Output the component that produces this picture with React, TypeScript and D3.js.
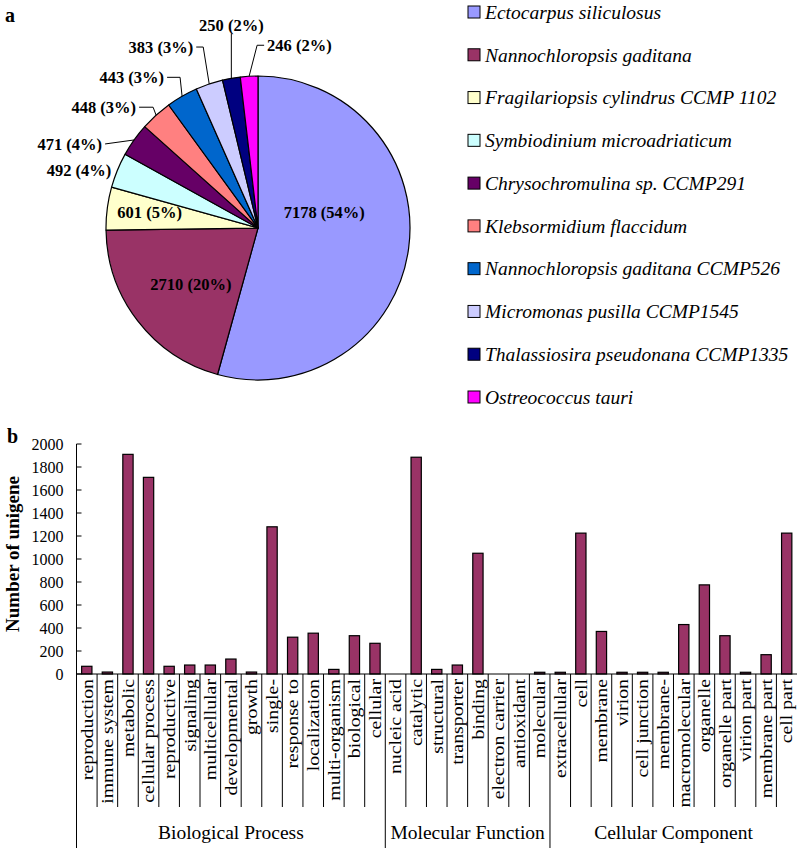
import React from 'react';
import * as d3 from 'd3';

// ---- panel a: species distribution ----
const species = [
  'Ectocarpus siliculosus',
  'Nannochloropsis gaditana',
  'Fragilariopsis cylindrus CCMP 1102',
  'Symbiodinium microadriaticum',
  'Chrysochromulina sp. CCMP291',
  'Klebsormidium flaccidum',
  'Nannochloropsis gaditana CCMP526',
  'Micromonas pusilla CCMP1545',
  'Thalassiosira pseudonana CCMP1335',
  'Ostreococcus tauri'
];
const speciesCounts = [7178, 2710, 601, 492, 471, 448, 443, 383, 250, 246];
const speciesColors = ['#9999ff', '#993366', '#ffffcc', '#ccffff', '#660066', '#ff8080', '#0066cc', '#ccccff', '#000080', '#ff00ff'];

// ---- panel b: GO classification ----
const bioProcess = ['reproduction', 'immune system', 'metabolic', 'cellular process', 'reproductive', 'signaling', 'multicellular', 'developmental', 'growth', 'single-', 'response to', 'localization', 'multi-organism', 'biological', 'cellular'];
const bioValues = [67, 17, 1910, 1710, 67, 78, 78, 130, 17, 1280, 320, 355, 40, 333, 267];
const molFunction = ['nucleic acid', 'catalytic', 'structural', 'transporter', 'binding', 'electron carrier', 'antioxidant', 'molecular'];
const molValues = [0, 1885, 40, 78, 1050, 0, 0, 15];
const cellComponent = ['extracellular', 'cell', 'membrane', 'virion', 'cell junction', 'membrane-', 'macromolecular', 'organelle', 'organelle part', 'virion part', 'membrane part', 'cell part'];
const cellValues = [15, 1225, 370, 15, 15, 15, 430, 775, 333, 15, 168, 1225];
const groupNames = ['Biological Process', 'Molecular Function', 'Cellular Component'];
const yTicks = [0, 200, 400, 600, 800, 1000, 1200, 1400, 1600, 1800, 2000];

const FONT = "'Liberation Serif', 'Times New Roman', serif";
const W = 797;
const H = 848;

// label nudges for the pie (Excel-style placement)
type PieLabel = { inside: boolean; dx: number; dy: number; anchor: 'start' | 'middle' | 'end'; leader: 'none' | 'straight' | 'elbow' | 'vertical'; elbow?: number };
const pieLabelLayout: PieLabel[] = [
  { inside: true, dx: -9, dy: -26, anchor: 'middle', leader: 'none' },
  { inside: true, dx: -7, dy: 10, anchor: 'middle', leader: 'none' },
  { inside: true, dx: -33, dy: -6, anchor: 'middle', leader: 'none' },
  { inside: false, dx: -6, dy: 0, anchor: 'end', leader: 'none' },
  { inside: false, dx: -32, dy: 4, anchor: 'end', leader: 'straight' },
  { inside: false, dx: -20, dy: -8, anchor: 'end', leader: 'elbow', elbow: -3 },
  { inside: false, dx: -18, dy: -19, anchor: 'end', leader: 'elbow', elbow: -2 },
  { inside: false, dx: -16, dy: -37, anchor: 'end', leader: 'elbow', elbow: -6 },
  { inside: false, dx: 0, dy: -53, anchor: 'middle', leader: 'vertical' },
  { inside: false, dx: 18, dy: -31, anchor: 'start', leader: 'elbow', elbow: 8 }
];

const PieChart: React.FC = () => {
  const cx = 258;
  const cy = 228;
  const r = 152;
  const total = d3.sum(speciesCounts);
  const arcs = d3.pie<number>().sort(null).value(d => d)(speciesCounts);
  const arc = d3.arc<d3.PieArcDatum<number>>().innerRadius(0).outerRadius(r);

  return (
    <g transform={`translate(${cx},${cy})`}>
      {arcs.map((a, i) => (
        <path key={i} d={arc(a) || ''} fill={speciesColors[i]} stroke="#000" strokeWidth={1.2} strokeLinejoin="round" />
      ))}
      {arcs.map((a, i) => {
        const lay = pieLabelLayout[i];
        const mid = (a.startAngle + a.endAngle) / 2;
        const pct = Math.round((a.value / total) * 100);
        const text = `${a.value} (${pct}%)`;
        let tx: number;
        let ty: number;
        let leader: string | null = null;
        if (lay.inside) {
          const [x, y] = arc.centroid(a);
          tx = x + lay.dx;
          ty = y + lay.dy;
        } else {
          const ex = Math.sin(mid) * r;
          const ey = -Math.cos(mid) * r;
          tx = ex + lay.dx;
          ty = ey + lay.dy;
          const sx = lay.anchor === 'end' ? tx + 3 : lay.anchor === 'start' ? tx - 3 : tx;
          const sy = lay.leader === 'vertical' ? ty + 8 : ty;
          if (lay.leader === 'straight' || lay.leader === 'vertical') {
            leader = `M${sx},${sy}L${ex},${ey}`;
          } else if (lay.leader === 'elbow') {
            leader = `M${sx},${sy}L${ex + (lay.elbow || 0)},${sy}L${ex},${ey}`;
          }
        }
        return (
          <g key={`l${i}`}>
            {leader && <path d={leader} fill="none" stroke="#000" strokeWidth={1} />}
            <text x={tx} y={ty} dy="0.35em" textAnchor={lay.anchor} fontFamily={FONT} fontWeight="bold" fontSize={16.5} fill="#000">
              {text}
            </text>
          </g>
        );
      })}
    </g>
  );
};

const Legend: React.FC = () => {
  const y = d3.scalePoint<string>().domain(species).range([12, 397]);
  return (
    <g>
      {species.map((s, i) => (
        <g key={s} transform={`translate(468,${y(s)})`}>
          <rect x={0} y={-6} width={12} height={12} fill={speciesColors[i]} stroke="#000" strokeWidth={1} />
          <text x={17} y={0} dy="0.35em" fontFamily={FONT} fontStyle="italic" fontSize={19.5} fill="#000">
            {s}
          </text>
        </g>
      ))}
    </g>
  );
};

const BarChart: React.FC = () => {
  const left = 76.5;
  const right = W;
  const y0 = 674;
  const yTop = 444;
  const sepBottom = 807;
  const categories = [...bioProcess, ...molFunction, ...cellComponent];
  const values = [...bioValues, ...molValues, ...cellValues];
  const groupSizes = [bioProcess.length, molFunction.length, cellComponent.length];

  const x = d3.scaleBand<string>().domain(categories).range([left, right]).padding(0);
  const step = x.step();
  const y = d3.scaleLinear().domain([0, 2000]).range([y0, yTop]);

  const groupEdges: number[] = [];
  let acc = 0;
  groupSizes.forEach(n => {
    groupEdges.push(left + acc * step);
    acc += n;
  });
  groupEdges.push(left + acc * step);

  return (
    <g fontFamily={FONT} fill="#000">
      {/* bars */}
      {categories.map((c, i) =>
        values[i] > 0 ? (
          <rect
            key={c}
            x={(x(c) as number) + step * 0.25}
            y={y(values[i])}
            width={step * 0.5}
            height={y0 - y(values[i])}
            fill="#993366"
            stroke="#000"
            strokeWidth={1.2}
          />
        ) : null
      )}

      {/* y axis */}
      <line x1={left} x2={left} y1={yTop} y2={H} stroke="#000" strokeWidth={1} />
      {yTicks.map(t => (
        <g key={t} transform={`translate(0,${y(t)})`}>
          <line x1={left} x2={left + 5} y1={0} y2={0} stroke="#000" strokeWidth={1} />
          <text x={left - 13} y={0} dy="0.35em" textAnchor="end" fontSize={16}>
            {t}
          </text>
        </g>
      ))}
      <text
        transform={`translate(12,554) rotate(-90)`}
        textAnchor="middle"
        dy="0.35em"
        fontWeight="bold"
        fontSize={19}
      >
        Number of unigene
      </text>

      {/* x axis */}
      <line x1={left} x2={right} y1={y0} y2={y0} stroke="#000" strokeWidth={1} />
      {categories.map((c, i) =>
        i > 0 ? (
          <line
            key={`s${c}`}
            x1={left + i * step}
            x2={left + i * step}
            y1={y0}
            y2={groupEdges.includes(left + i * step) ? H : sepBottom}
            stroke="#000"
            strokeWidth={1}
          />
        ) : null
      )}
      {categories.map(c => (
        <text
          key={`t${c}`}
          transform={`translate(${(x(c) as number) + step / 2},679) rotate(-90) scale(1.2,1)`}
          textAnchor="end"
          dy="0.35em"
          fontSize={16.5}
        >
          {c}
        </text>
      ))}
      {groupNames.map((g, i) => (
        <text key={g} x={(groupEdges[i] + groupEdges[i + 1]) / 2} y={839} textAnchor="middle" fontSize={19.5}>
          {g}
        </text>
      ))}
    </g>
  );
};

const App: React.FC = () => {
  return (
    <svg
      width={W}
      height={H}
      viewBox={`0 0 ${W} ${H}`}
      style={{ position: 'absolute', left: 0, top: 0, background: '#fff' }}
    >
      <rect width={W} height={H} fill="#fff" />
      <text x={5} y={22} fontFamily={FONT} fontWeight="bold" fontSize={20}>a</text>
      <text x={7} y={443} fontFamily={FONT} fontWeight="bold" fontSize={20}>b</text>
      <PieChart />
      <Legend />
      <BarChart />
    </svg>
  );
};

export default App;
